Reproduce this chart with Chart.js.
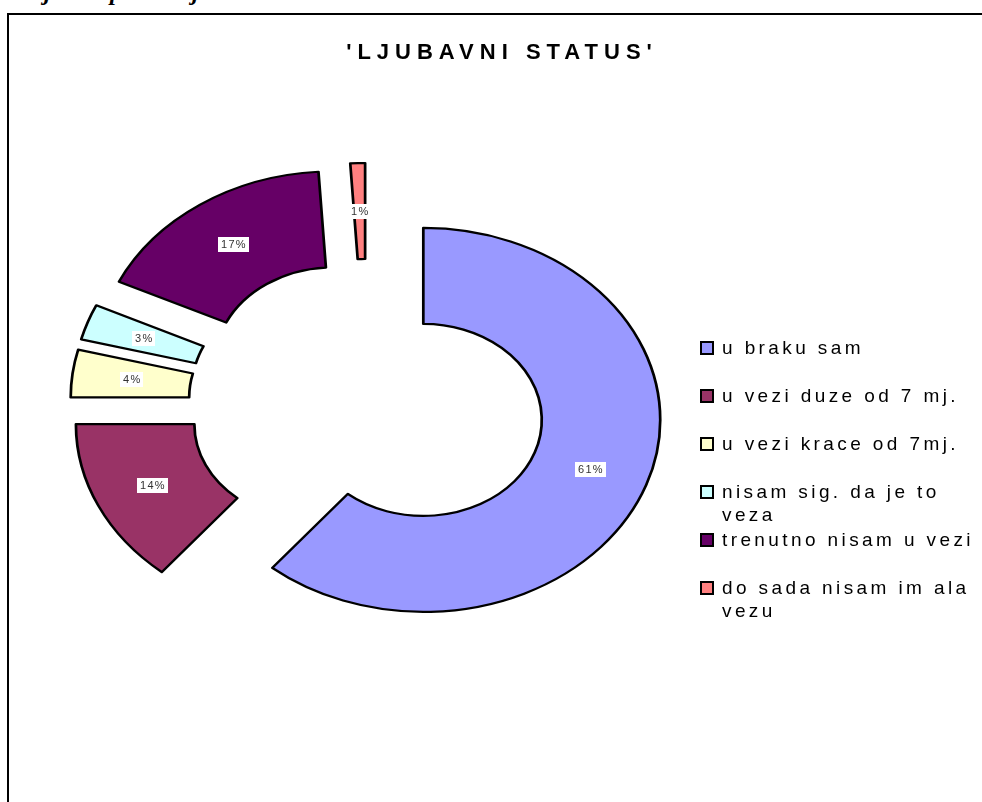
<!DOCTYPE html>
<html>
<head>
<meta charset="utf-8">
<script src="https://cdn.jsdelivr.net/npm/chart.js@4"></script>
<style>
  body { margin: 0; background: #fff; width: 982px; height: 802px; overflow: hidden; position: relative; font-family: "Liberation Sans", Arial, sans-serif; }
  #frame { position: absolute; left: 7px; top: 13px; width: 1200px; height: 1200px; border-left: 2px solid #000; border-top: 2px solid #000; }
  #myChart { position: absolute; left: 0; top: 0; }
  #title { position: absolute; left: 0; width: 1004px; top: 41px; text-align: center; font-size: 22px; line-height: 22px; font-weight: bold; letter-spacing: 6px; color: #000; }
  .cut { position: absolute; top: -20px; font-family: "Liberation Serif", serif; font-style: italic; font-weight: bold; font-size: 24px; line-height: 24px; }
  .item { position: absolute; left: 700px; font-size: 19px; line-height: 23px; letter-spacing: 3.4px; color: #000; white-space: nowrap; }
  .item i { position: absolute; left: 0; top: 5px; width: 10px; height: 10px; border: 2px solid #000; }
  .item span { display: block; margin-left: 22px; }
</style>
</head>
<body>
<span class="cut" style="left:44px">j</span>
<span class="cut" style="left:110px">p</span>
<span class="cut" style="left:192px">j</span>
<div id="frame"></div>
<canvas id="myChart" width="982" height="802"></canvas>
<div id="title"></div>
<div id="legend"></div>
<script>
const chartTitle = "'LJUBAVNI STATUS'";
const categories = [
  ['u braku sam'],
  ['u vezi duze od 7 mj.'],
  ['u vezi krace od 7mj.'],
  ['nisam sig. da je to', 'veza'],
  ['trenutno nisam u vezi'],
  ['do sada nisam im ala', 'vezu']
];
const percents = [61, 14, 4, 3, 17, 1];
const colors = ['#9999FF', '#993366', '#FFFFCC', '#CCFFFF', '#660066', '#FF8080'];

const stretchX = 1.234;   // the doughnut is drawn as an ellipse
const explodeBy = 48.5;   // every slice is pulled out

document.getElementById('title').textContent = chartTitle;

// legend
const legend = document.getElementById('legend');
categories.forEach((lines, i) => {
  const div = document.createElement('div');
  div.className = 'item';
  div.style.top = (336 + i * 48) + 'px';
  const box = document.createElement('i');
  box.style.background = colors[i];
  div.appendChild(box);
  lines.forEach(t => {
    const s = document.createElement('span');
    s.textContent = t;
    div.appendChild(s);
  });
  legend.appendChild(div);
});

const explode = {
  id: 'explode',
  beforeDatasetDraw() { return false; },
  afterDatasetsDraw(chart) {
    const ctx = chart.ctx;
    const meta = chart.getDatasetMeta(0);
    meta.data.forEach(arc => {
      const mid = (arc.startAngle + arc.endAngle) / 2;
      ctx.save();
      ctx.translate(arc.x, 0);
      ctx.scale(stretchX, 1);
      ctx.translate(-arc.x, 0);
      ctx.translate(Math.cos(mid) * explodeBy, Math.sin(mid) * explodeBy);
      arc.draw(ctx);
      ctx.restore();
    });

    // percent labels
    ctx.save();
    ctx.font = '11px "Liberation Sans", Arial';
    ctx.letterSpacing = '1.3px';
    ctx.textAlign = 'left';
    ctx.textBaseline = 'middle';
    meta.data.forEach((arc, i) => {
      const mid = (arc.startAngle + arc.endAngle) / 2;
      const r = (arc.innerRadius + arc.outerRadius) / 2 + explodeBy;
      const px = arc.x + Math.cos(mid) * r * stretchX;
      const py = arc.y + Math.sin(mid) * r;
      const txt = percents[i] + '%';
      const w = ctx.measureText(txt).width + 5;
      ctx.fillStyle = '#fff';
      ctx.fillRect(Math.round(px - w / 2), Math.round(py - 7), Math.round(w), 15);
      ctx.fillStyle = '#333';
      ctx.fillText(txt, Math.round(px - w / 2) + 3, Math.round(py) + 1);
    });
    ctx.restore();
  }
};

const ctx = document.getElementById('myChart');

new Chart(ctx, {
  type: 'doughnut',
  data: {
    labels: categories.map(c => c.join(' ')),
    datasets: [{
      data: percents,
      backgroundColor: colors,
      borderColor: '#000',
      borderWidth: 2.2,
      borderJoinStyle: 'round'
    }]
  },
  options: {
    responsive: false,
    animation: false,
    radius: 192,
    cutout: '50%',
    layout: { padding: { left: 0, right: 248, top: 5, bottom: 0 } },
    plugins: {
      legend: { display: false },
      tooltip: { enabled: false }
    }
  },
  plugins: [explode]
});
</script>
</body>
</html>
